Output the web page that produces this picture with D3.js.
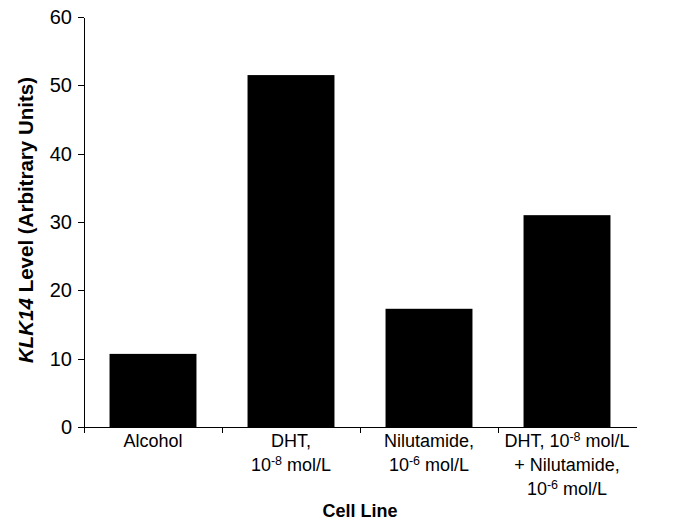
<!DOCTYPE html>
<html>
<head>
<meta charset="utf-8">
<script src="https://cdn.jsdelivr.net/npm/d3@7"></script>
<style>
  body { margin: 0; background: #fff; }
  svg { display: block; font-family: "Liberation Sans", Arial, Helvetica, sans-serif; }
  .axis path, .axis line { stroke: #000; stroke-width: 1.3; shape-rendering: crispEdges; }
  .axis text { font-size: 20px; fill: #000; }
  .cat-label { font-size: 18px; fill: #000; }
  .title { font-size: 18px; font-weight: bold; fill: #000; }
  .y-title { font-size: 20.5px; }
</style>
</head>
<body>
<div id="bar-chart"></div>
<script>
// Data
var categories = ["Alcohol", "DHT", "Nilutamide", "DHT + Nilutamide"];
var values = [10.7, 51.5, 17.3, 31.0];
// label lines, ^...^ marks a superscript
var labelLines = [
  ["Alcohol"],
  ["DHT,", "10^-8^ mol/L"],
  ["Nilutamide,", "10^-6^ mol/L"],
  ["DHT, 10^-8^ mol/L", "+ Nilutamide,", "10^-6^ mol/L"]
];
var yTicks = [0, 10, 20, 30, 40, 50, 60];

var width = 674;
var height = 527;
var margins = { top: 17, right: 38, bottom: 100, left: 84 };

var chartWidth = width - margins.left - margins.right;
var chartHeight = height - margins.top - margins.bottom;

var svg = d3.select("#bar-chart")
  .append("svg")
  .attr("width", width)
  .attr("height", height);

var chartElement = svg.append("g")
  .attr("transform", `translate(${margins.left},${margins.top})`);

var xScale = d3.scaleBand()
  .domain(categories)
  .range([0, chartWidth])
  .paddingInner(0.37)
  .paddingOuter(0.185);

// category boundaries for tick marks
var xEdge = d3.scaleLinear()
  .domain([0, categories.length])
  .range([0, chartWidth]);

var yScale = d3.scaleLinear()
  .domain([0, 60])
  .range([chartHeight, 0]);

// bars
chartElement.append("g")
  .attr("class", "bars")
  .selectAll("rect")
  .data(values)
  .enter()
  .append("rect")
  .attr("x", (d, i) => xScale(categories[i]))
  .attr("y", d => yScale(d))
  .attr("width", xScale.bandwidth())
  .attr("height", d => yScale(0) - yScale(d))
  .attr("fill", "#000");

// y axis
var yAxis = d3.axisLeft(yScale)
  .tickValues(yTicks)
  .tickSize(6)
  .tickSizeOuter(0)
  .tickPadding(6);

chartElement.append("g")
  .attr("class", "y axis")
  .call(yAxis);

// x axis (ticks between categories)
var xAxis = d3.axisBottom(xEdge)
  .tickValues(d3.range(0, categories.length))
  .tickFormat("")
  .tickSize(6)
  .tickSizeOuter(0);

chartElement.append("g")
  .attr("class", "x axis")
  .attr("transform", `translate(0,${chartHeight})`)
  .call(xAxis);

// category labels
var lineHeight = 24;
var labels = chartElement.append("g")
  .attr("class", "cat-labels");

labelLines.forEach(function(lines, i) {
  var cx = xScale(categories[i]) + xScale.bandwidth() / 2;
  var text = labels.append("text")
    .attr("class", "cat-label")
    .attr("text-anchor", "middle")
    .attr("x", cx)
    .attr("y", chartHeight + 20);
  lines.forEach(function(line, j) {
    var row = text.append("tspan")
      .attr("x", cx)
      .attr("dy", j == 0 ? 0 : lineHeight);
    line.split("^").forEach(function(part, k) {
      if (!part) return;
      if (k % 2 == 1) {
        row.append("tspan")
          .attr("font-size", "12.5px")
          .attr("baseline-shift", "6px")
          .text(part);
      } else {
        row.append("tspan").text(part);
      }
    });
  });
});

// axis titles
svg.append("text")
  .attr("class", "title")
  .attr("text-anchor", "middle")
  .attr("x", margins.left + chartWidth / 2)
  .attr("y", 517)
  .text("Cell Line");

var yTitle = svg.append("text")
  .attr("class", "title y-title")
  .attr("text-anchor", "middle")
  .attr("transform", `translate(33,${margins.top + chartHeight / 2 - 2}) rotate(-90)`);
yTitle.append("tspan").attr("font-style", "italic").text("KLK14");
yTitle.append("tspan").text(" Level (Arbitrary Units)");
</script>
</body>
</html>
